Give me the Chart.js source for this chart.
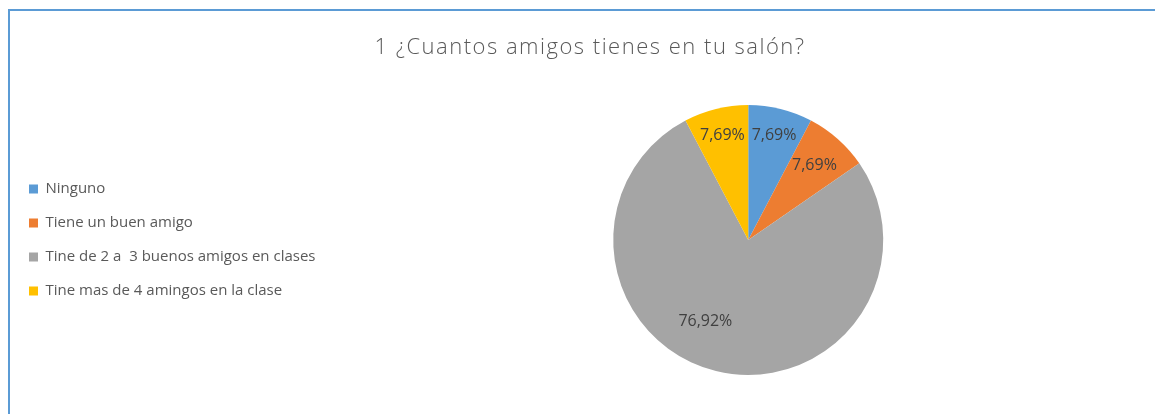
<!DOCTYPE html>
<html>
<head>
<meta charset="utf-8">
<script src="https://cdn.jsdelivr.net/npm/chart.js@4"></script>
<style>
    html, body { margin: 0; padding: 0; background: #fff; overflow: hidden; }
    #frame {
        position: absolute; left: 8px; top: 9px; right: -10px; bottom: -10px;
        border-top: 2px solid #5b9bd5; border-left: 2px solid #5b9bd5;
    }
    #chart-title {
        position: absolute; left: 0; top: 30px; width: 1180px;
        text-align: center; margin: 0;
        font: 300 22px/30px "Open Sans", sans-serif;
        letter-spacing: 1.5px; color: #595959;
    }
    /* a little wider than the window so the pie sits where it should */
    #wrap { position: absolute; left: 0; top: 0; width: 1171px; height: 414px; }
</style>
</head>
<body>
<div id="frame"></div>
<div id="wrap"><canvas id="pie-chart"></canvas></div>
<h1 id="chart-title"></h1>
<script>
// ===== PIE: 1 ¿Cuantos amigos tienes en tu salón? =====

const TITLE = '1 ¿Cuantos amigos tienes en tu salón?';
const categories = [
    'Ninguno',
    'Tiene un buen amigo',
    'Tine de 2 a  3 buenos amigos en clases',
    'Tine mas de 4 amingos en la clase'
];
const percentages = [7.69, 7.69, 76.92, 7.69];
const sliceColors = ['#5b9bd5', '#ed7d31', '#a5a5a5', '#ffc000'];

// where each % label sits: fraction of radius, and a small turn (degrees)
const labelRadius = [0.8, 0.74, 0.68, 0.8];
const labelTurn = [0, 0, 14, 0];

document.getElementById('chart-title').textContent = TITLE;

/**
 * Draw the "7,69%" style labels inside each slice
 */
const sliceLabels = {
    id: 'sliceLabels',
    afterDatasetsDraw(chart) {
        const ctx = chart.ctx;
        const meta = chart.getDatasetMeta(0);
        ctx.save();
        ctx.font = '16px "Open Sans", sans-serif';
        ctx.fillStyle = '#404040';
        ctx.textAlign = 'center';
        ctx.textBaseline = 'middle';
        meta.data.forEach((arc, i) => {
            const p = arc.getProps(['x', 'y', 'startAngle', 'endAngle', 'outerRadius'], true);
            const mid = (p.startAngle + p.endAngle) / 2 + labelTurn[i] * Math.PI / 180;
            const r = p.outerRadius * labelRadius[i];
            const txt = percentages[i].toFixed(2).replace('.', ',') + '%';
            ctx.fillText(txt, p.x + Math.cos(mid) * r, p.y + Math.sin(mid) * r);
        });
        ctx.restore();
    }
};

const ctx = document.getElementById('pie-chart');

new Chart(ctx, {
    type: 'pie',
    data: {
        labels: categories,
        datasets: [{
            data: percentages,
            backgroundColor: sliceColors,
            borderWidth: 0
        }]
    },
    options: {
        responsive: true,
        maintainAspectRatio: false,
        animation: false,
        layout: { padding: { left: 10, right: 0, top: 105, bottom: 39 } },
        plugins: {
            title: { display: false },
            legend: {
                position: 'left',
                labels: {
                    color: '#595959',
                    font: { family: 'Open Sans', size: 15 },
                    boxWidth: 9,
                    boxHeight: 9,
                    padding: 19
                }
            },
            tooltip: { enabled: false }
        }
    },
    plugins: [sliceLabels]
});
</script>
</body>
</html>
